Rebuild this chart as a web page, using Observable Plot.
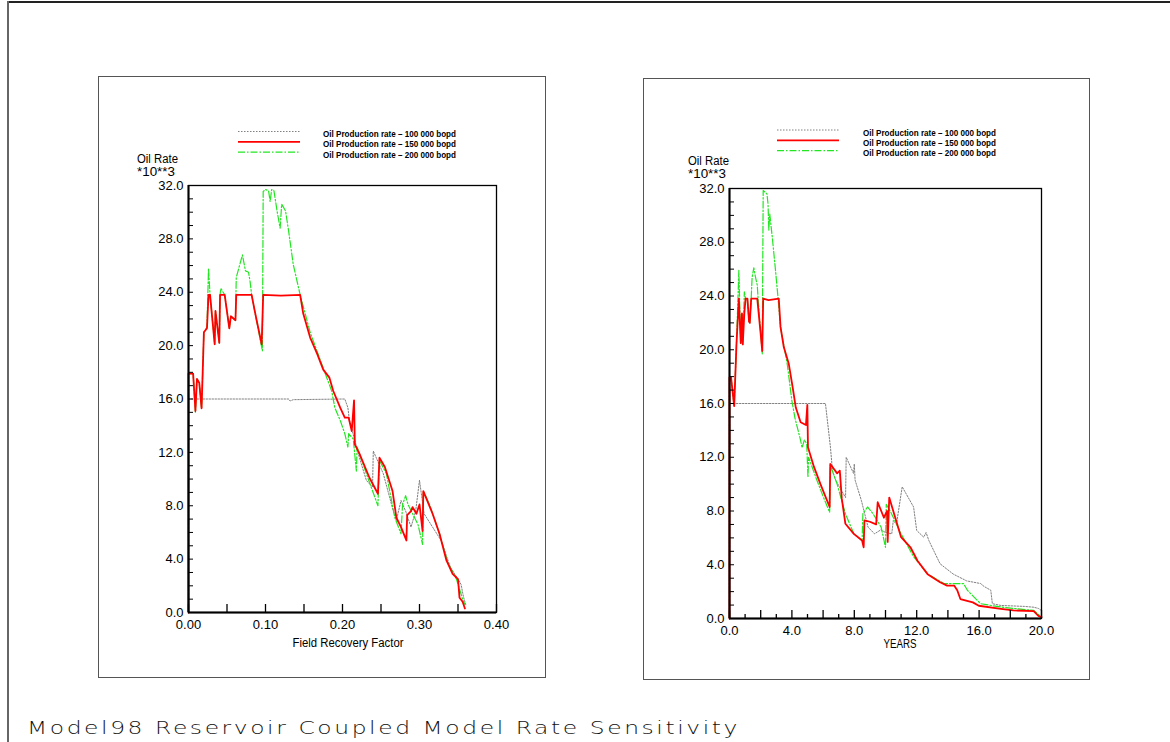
<!DOCTYPE html>
<html>
<head>
<meta charset="utf-8">
<script src="https://cdn.jsdelivr.net/npm/d3@7"></script>
<script src="https://cdn.jsdelivr.net/npm/@observablehq/plot@0.6"></script>
<style>
  html, body { margin: 0; padding: 0; background: #fff; }
  #page { position: relative; width: 1170px; height: 742px; overflow: hidden; }
  .frame-top { position: absolute; left: 7px; top: 1px; width: 1163px; height: 0; border-top: 2px solid #222; }
  .frame-left { position: absolute; left: 7px; top: 1px; width: 0; height: 741px; border-left: 2px solid #666; }
  .box { position: absolute; border: 1.5px solid #555; box-sizing: border-box; }
  #overlay { position: absolute; left: 0; top: 0; pointer-events: none; }
</style>
</head>
<body>
<div id="page">
  <div class="frame-top"></div>
  <div class="frame-left"></div>
  <div class="box" style="left:98px;top:76px;width:448px;height:602px;"></div>
  <div class="box" style="left:643px;top:78px;width:447px;height:602px;"></div>
</div>
<script>
// ---- Series: oil rate (thousand bopd) against field recovery factor ----
const frfRate100 = [[0,0],[0,16.0],[0.130,16.0],[0.132,15.85],[0.136,15.95],[0.203,16.0],[0.207,15.35],[0.209,14.4],
  [0.216,12.9],[0.222,11.6],[0.231,9.9],[0.239,9.4],[0.240,12.1],[0.253,10.4],[0.259,9.1],[0.266,7.6],[0.270,6.9],
  [0.276,8.4],[0.282,7.6],[0.289,6.4],[0.295,7.6],[0.300,9.9],[0.306,7.4],[0.317,6.4],[0.328,5.4],[0.340,3.4],
  [0.350,2.5],[0.354,2.1],[0.357,1.2],[0.360,0.6]];
const frfRate150 = [[0,0],[0,17.9],[0.006,17.9],[0.009,15.1],[0.011,17.5],[0.014,17.2],[0.017,15.3],[0.020,21.0],
  [0.024,21.3],[0.026,23.8],[0.028,23.8],[0.034,20.1],[0.035,22.6],[0.040,20.2],[0.041,23.8],[0.047,23.8],[0.053,21.3],
  [0.055,22.2],[0.061,21.9],[0.062,23.8],[0.082,23.8],[0.086,22.6],[0.095,20.1],[0.097,23.8],[0.120,23.75],[0.145,23.8],
  [0.149,22.4],[0.158,20.6],[0.167,19.4],[0.175,18.2],[0.183,17.6],[0.188,16.6],[0.197,15.35],[0.203,14.6],[0.208,14.6],
  [0.212,13.6],[0.215,15.9],[0.216,12.6],[0.222,11.9],[0.235,10.1],[0.246,8.9],[0.248,11.6],[0.255,10.9],[0.265,9.1],
  [0.270,7.1],[0.276,6.4],[0.283,5.4],[0.284,7.3],[0.289,7.6],[0.291,7.9],[0.296,7.4],[0.300,8.1],[0.304,6.1],[0.305,9.1],
  [0.317,7.4],[0.326,5.9],[0.335,3.9],[0.339,3.4],[0.343,2.9],[0.350,2.5],[0.352,1.1],[0.356,0.8],[0.359,0.3]];
const frfRate200 = [[0,0],[0,17.9],[0.006,17.9],[0.009,15.0],[0.011,17.5],[0.014,17.2],[0.017,15.3],[0.020,21.0],
  [0.024,21.4],[0.026,25.8],[0.028,23.8],[0.034,20.1],[0.035,22.6],[0.040,20.2],[0.041,23.8],[0.042,24.3],[0.047,23.8],
  [0.053,21.3],[0.055,22.2],[0.061,21.9],[0.062,25.1],[0.070,26.8],[0.074,25.6],[0.078,25.5],[0.080,24.8],[0.082,23.8],
  [0.086,22.6],[0.096,19.6],[0.097,31.55],[0.100,31.7],[0.104,31.6],[0.106,30.8],[0.108,31.7],[0.111,31.6],[0.115,30.1],
  [0.119,28.8],[0.121,30.6],[0.126,30.1],[0.130,28.6],[0.136,26.1],[0.145,23.8],[0.158,21.0],[0.175,18.3],[0.186,16.6],
  [0.190,15.35],[0.197,14.4],[0.203,13.4],[0.207,12.4],[0.208,13.4],[0.214,13.0],[0.218,10.6],[0.219,12.4],[0.231,10.4],
  [0.246,8.0],[0.248,11.4],[0.257,10.4],[0.268,7.1],[0.276,5.9],[0.278,8.1],[0.282,8.75],[0.285,8.1],[0.298,6.6],
  [0.304,5.1],[0.305,9.1],[0.313,8.1],[0.326,5.9],[0.337,3.7],[0.348,2.5],[0.356,1.0],[0.359,0.6]];

// ---- Series: oil rate (thousand bopd) against time in years ----
const yrsRate100 = [[0,0],[0,16.0],[6.15,16.0],[6.47,12.75],[6.6,11.0],[6.8,10.3],[7.44,9.0],[7.48,12.0],[7.95,10.8],
  [8.0,11.5],[8.05,10.3],[8.45,8.8],[8.88,6.8],[9.3,6.3],[9.7,6.6],[10.0,6.4],[10.4,6.3],[10.5,7.3],[10.7,7.0],
  [11.07,9.8],[11.8,8.3],[12.0,6.55],[12.45,6.05],[12.6,6.4],[12.78,5.8],[13.5,4.07],[14.35,3.3],[15.2,2.8],[16.1,2.6],
  [16.3,2.4],[16.75,2.1],[16.85,1.1],[17.4,0.97],[18.9,0.9],[19.5,0.84],[19.8,0.75],[20,0.6]];
const yrsRate150 = [[0,0],[0,17.95],[0.1,17.95],[0.3,15.8],[0.45,20.5],[0.6,23.8],[0.72,20.5],[0.8,22.7],[0.85,20.4],
  [0.95,22.7],[1.03,23.8],[1.15,23.8],[1.25,22.1],[1.3,22.0],[1.39,23.8],[1.78,23.8],[1.98,21.4],[2.1,19.9],[2.16,23.8],
  [2.5,23.7],[3.16,23.8],[3.27,21.7],[3.48,20.2],[3.8,18.95],[4.05,17.2],[4.25,15.7],[4.56,14.6],[4.9,14.4],[4.99,15.9],
  [5.03,12.75],[5.41,11.3],[5.83,10.0],[6.42,8.3],[6.46,11.5],[6.9,10.8],[7.07,11.0],[7.2,8.9],[7.43,7.05],[7.97,6.3],
  [8.5,5.8],[8.6,5.3],[8.65,7.3],[9.0,7.2],[9.4,7.0],[9.5,8.65],[9.9,7.5],[10.1,8.0],[10.14,5.7],[10.24,9.0],[11.0,6.05],
  [11.6,5.3],[12.05,4.3],[12.7,3.3],[13.5,2.7],[13.95,2.45],[14.4,2.45],[14.6,2.1],[14.8,1.45],[15.6,1.2],[15.98,0.95],
  [17.4,0.72],[18.2,0.6],[19.5,0.55],[19.8,0.2],[20,0.1]];
const yrsRate200 = [[0,0],[0,17.9],[0.1,17.9],[0.3,15.8],[0.45,20.5],[0.6,25.9],[0.72,20.5],[0.8,22.7],[0.85,20.4],
  [0.95,24.3],[1.03,23.8],[1.15,23.8],[1.25,22.1],[1.3,22.0],[1.39,23.8],[1.45,25.4],[1.56,26.1],[1.65,25.5],[1.78,24.8],
  [1.85,23.5],[2.1,19.7],[2.16,31.85],[2.4,31.6],[2.47,30.85],[2.52,28.9],[2.58,30.1],[2.74,28.4],[2.95,25.9],[3.1,24.0],
  [3.27,21.7],[3.7,18.95],[4.0,16.2],[4.2,14.9],[4.55,13.3],[4.65,12.7],[4.8,13.3],[4.95,13.0],[5.03,10.5],[5.07,12.0],
  [5.6,10.3],[6.03,9.0],[6.42,7.9],[6.46,11.4],[6.9,10.0],[7.43,7.8],[7.97,6.3],[8.5,5.8],[8.55,7.8],[8.85,8.3],[9.2,7.8],
  [9.72,6.8],[10.0,5.3],[10.05,8.5],[10.3,8.0],[11.0,6.3],[11.8,4.6],[12.7,3.3],[13.75,2.6],[15.0,2.6],[15.25,2.1],
  [16.1,1.1],[17.4,0.85],[19.5,0.6],[19.9,0.2],[20,0.1]];

// ---- Labels and ticks ----
const legendLabels = ["Oil Production rate \u2013 100 000 bopd", "Oil Production rate \u2013 150 000 bopd", "Oil Production rate \u2013 200 000 bopd"];
const rateTicksMinor = [0,1,2,3,4,5,6,7,8,9,10,11,12,13,14,15,16,17,18,19,20,21,22,23,24,25,26,27,28,29,30,31,32];
const rateTicksMajor = [0,4,8,12,16,20,24,28,32];
const frfTicks = [0,0.05,0.10,0.15,0.20,0.25,0.30,0.35,0.40];
const frfTickLabels = [0,0.10,0.20,0.30,0.40];
const yrsTicksMinor = [1,3,5,7,9,11,13,15,17,19];
const yrsTicksMajor = [0,2,4,6,8,10,12,14,16,18,20];
const yrsTickLabels = [0,4,8,12,16,20];
const chartTitle = "Model98 Reservoir Coupled Model Rate Sensitivity";

const FONT = '"Liberation Sans", Arial, Helvetica, sans-serif';
const seriesStyle = [
  {stroke: "#808080", strokeWidth: 1, strokeDasharray: "1.5,1.5"},
  {stroke: "#ff0000", strokeWidth: 1.8, strokeDasharray: null},
  {stroke: "#22e622", strokeWidth: 1.2, strokeDasharray: "7,2,1.5,2"}
];

function seriesMarks(s100, s150, s200) {
  const pt = {x: d => d[0], y: d => d[1], curve: "linear"};
  return [
    Plot.line(s100, {...pt, ...seriesStyle[0]}),
    Plot.line(s200, {...pt, ...seriesStyle[2]}),
    Plot.line(s150, {...pt, ...seriesStyle[1]})
  ];
}

function ratePanel({series, xDomain, xTickSets, xLabels, xFormat, xTickPadding, margins, width, height}) {
  return Plot.plot({
    width, height, ...margins,
    x: {domain: xDomain},
    y: {domain: [0, 32]},
    style: {background: "transparent", fontFamily: FONT, fontSize: "13px", color: "#000", overflow: "visible"},
    marks: [
      ...seriesMarks(...series),
      Plot.frame({stroke: "#000", strokeWidth: 1.3}),
      Plot.ruleX([xDomain[0]], {stroke: "#000", strokeWidth: 2}),
      Plot.ruleY([0], {stroke: "#000", strokeWidth: 2}),
      Plot.axisY({ticks: rateTicksMinor, tickSize: -5, tickFormat: () => "", label: null, stroke: "#000"}),
      Plot.axisY({ticks: rateTicksMajor, tickSize: 0, tickPadding: 5, tickFormat: d => d.toFixed(1), label: null, fill: "#000"}),
      ...xTickSets.map(([ticks, size]) => Plot.axisX({ticks, tickSize: -size, tickFormat: () => "", label: null, stroke: "#000", strokeWidth: 1.3})),
      Plot.axisX({ticks: xLabels, tickSize: 0, tickPadding: xTickPadding, tickFormat: xFormat, label: null, fill: "#000"})
    ]
  });
}

const page = document.getElementById("page");

const leftChart = ratePanel({
  series: [frfRate100, frfRate150, frfRate200],
  xDomain: [0, 0.4],
  xTickSets: [[frfTicks, 8]],
  xLabels: frfTickLabels,
  xFormat: d => d.toFixed(2),
  xTickPadding: 7,
  width: 446, height: 600,
  margins: {marginLeft: 89, marginRight: 49, marginTop: 108, marginBottom: 65}
});
Object.assign(leftChart.style, {position: "absolute", left: "99px", top: "77px"});
page.append(leftChart);

const rightChart = ratePanel({
  series: [yrsRate100, yrsRate150, yrsRate200],
  xDomain: [0, 20],
  xTickSets: [[yrsTicksMinor, 4], [yrsTicksMajor, 8]],
  xLabels: yrsTickLabels,
  xFormat: d => d.toFixed(1),
  xTickPadding: 7,
  width: 445, height: 600,
  margins: {marginLeft: 85, marginRight: 48, marginTop: 109, marginBottom: 61}
});
Object.assign(rightChart.style, {position: "absolute", left: "644px", top: "79px"});
page.append(rightChart);

// ---- Annotation layer: axis titles, units, legends and page title ----
const overlay = d3.select(page).append("svg")
  .attr("id", "overlay").attr("width", 1170).attr("height", 742)
  .style("font-family", FONT);

function fitText(sel, len) {
  return sel.attr("textLength", len).attr("lengthAdjust", "spacingAndGlyphs");
}

function annotate({unitX, unitY, legendX, legendY, textX, axisTitle, axisTitleX, axisTitleY, axisTitleLen}) {
  fitText(overlay.append("text").attr("x", unitX).attr("y", unitY).attr("font-size", 12).text("Oil Rate"), 41);
  fitText(overlay.append("text").attr("x", unitX).attr("y", unitY + 13).attr("font-size", 12).text("*10**3"), 38);
  legendLabels.forEach((label, i) => {
    const st = seriesStyle[i];
    const y = legendY + i * 10.3;
    overlay.append("line")
      .attr("x1", legendX).attr("x2", legendX + 62).attr("y1", y).attr("y2", y)
      .attr("stroke", st.stroke).attr("stroke-width", st.strokeWidth)
      .attr("stroke-dasharray", st.strokeDasharray);
    fitText(overlay.append("text").attr("x", textX).attr("y", y + 5.5).attr("font-size", 8.5)
      .attr("font-weight", "bold").text(label), 133);
  });
  fitText(overlay.append("text").attr("x", axisTitleX - axisTitleLen / 2).attr("y", axisTitleY).attr("font-size", 12)
    .text(axisTitle), axisTitleLen);
}

annotate({unitX: 137, unitY: 163, legendX: 238, legendY: 131.5, textX: 323,
  axisTitle: "Field Recovery Factor", axisTitleX: 348, axisTitleY: 647, axisTitleLen: 111});
annotate({unitX: 688, unitY: 165, legendX: 777, legendY: 130, textX: 863,
  axisTitle: "YEARS", axisTitleX: 900, axisTitleY: 648, axisTitleLen: 33});

fitText(overlay.append("text")
  .attr("x", 27).attr("y", 734)
  .style("font-family", '"DejaVu Sans", sans-serif')
  .style("letter-spacing", "2px")
  .attr("font-weight", 200).attr("font-size", 18).attr("fill", "#111")
  .text(chartTitle), 713);
</script>
</body>
</html>
